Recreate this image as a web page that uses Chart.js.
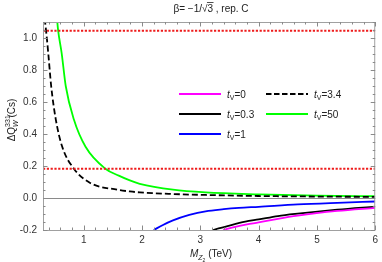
<!DOCTYPE html>
<html>
<head>
<meta charset="utf-8">
<script src="https://cdn.jsdelivr.net/npm/chart.js@4"></script>
<style>
  html, body { margin: 0; padding: 0; background: #fff; }
  #wrap { width: 382px; height: 262px; position: relative; }
</style>
</head>
<body>
<div id="wrap"><canvas id="chart"></canvas></div>
<script>
// valeurs : M_Z2 (TeV) -> Delta Q_W (Cs)
const mTv0 = [3.39, 3.6, 3.8, 4.0, 4.33, 4.67, 5.35, 6.0];
const qTv0 = [-0.2, -0.18, -0.165, -0.153, -0.13, -0.11, -0.081, -0.062];

const mTv03 = [3.22, 3.5, 3.77, 4.0, 4.33, 4.67, 5.35, 6.0];
const qTv03 = [-0.2, -0.172, -0.148, -0.134, -0.113, -0.098, -0.073, -0.054];

const mTv1 = [2.2, 2.35, 2.53, 2.81, 3.09, 3.4, 3.66, 4.0, 4.67, 5.35, 6.0];
const qTv1 = [-0.2, -0.17, -0.14, -0.106, -0.083, -0.07, -0.062, -0.055, -0.04, -0.03, -0.022];

const mTv34 = [0.33, 0.36, 0.39, 0.44, 0.52, 0.63, 0.83, 1.11, 1.57, 1.79, 1.96, 2.53, 3.09, 4.0, 5.0, 6.0];
const qTv34 = [1.12, 1.02, 0.906, 0.70, 0.49, 0.32, 0.183, 0.094, 0.052, 0.041, 0.035, 0.025, 0.019, 0.0125, 0.009, 0.007];

const mTv50 = [0.54, 0.56, 0.62, 0.69, 0.83, 1.03, 1.37, 1.6, 1.79, 1.96, 2.53, 3.09, 4.0, 5.0, 6.0];
const qTv50 = [1.12, 1.046, 0.906, 0.70, 0.49, 0.32, 0.183, 0.14, 0.11, 0.089, 0.052, 0.035, 0.023, 0.015, 0.011];

// bornes expérimentales (lignes rouges pointillées)
const boundHigh = 1.046;
const boundLow = 0.183;

const xRange = [0.3, 6];
const yRange = [-0.2, 1.1];
const xTicks = [1, 2, 3, 4, 5, 6];
const yTicks = [-0.2, 0, 0.2, 0.4, 0.6, 0.8, 1.0];

const FONT = "'Liberation Sans', Arial, sans-serif";

function zip(xs, ys) {
    return xs.map((x, i) => ({ x, y: ys[i] }));
}

function curve(label, xs, ys, color, dash) {
    return {
        label,
        data: zip(xs, ys),
        borderColor: color,
        borderWidth: 1.8,
        borderDash: dash || [],
        pointRadius: 0,
        fill: false,
        cubicInterpolationMode: "monotone",
    };
}

function hline(label, value) {
    return {
        label,
        data: [{ x: xRange[0], y: value }, { x: xRange[1], y: value }],
        borderColor: "#ee1c1c",
        borderWidth: 2,
        borderDash: [2.2, 1.6],
        pointRadius: 0,
        fill: false,
    };
}

/**
 * Dessine une suite de morceaux de texte (indices, exposants).
 */
function drawRuns(ctx, x, y, runs, align) {
    let total = 0;
    runs.forEach(r => { ctx.font = r.font; total += ctx.measureText(r.t).width; });
    let cx = align === "center" ? x - total / 2 : x;
    const pos = [];
    runs.forEach(r => {
        ctx.font = r.font;
        ctx.fillText(r.t, cx, y + (r.dy || 0));
        const w = ctx.measureText(r.t).width;
        pos.push({ x: cx, w });
        cx += w;
    });
    return pos;
}

const legendItems = [
    { sub: "0", color: "#ff00ff", dash: [], x: 179, y: 94 },
    { sub: "0.3", color: "#000000", dash: [], x: 179, y: 114 },
    { sub: "1", color: "#0000ff", dash: [], x: 179, y: 134 },
    { sub: "3.4", color: "#000000", dash: [5.5, 2.5], x: 266, y: 94 },
    { sub: "50", color: "#00ff00", dash: [], x: 266, y: 114 },
];

const decor = {
    id: "decor",
    beforeDatasetsDraw(chart) {
        const { ctx, chartArea: a, scales } = chart;
        const y0 = scales.y.getPixelForValue(0);
        ctx.save();
        ctx.strokeStyle = "#8a8a8a";
        ctx.lineWidth = 1;
        ctx.beginPath();
        ctx.moveTo(a.left, y0 + 0.5);
        ctx.lineTo(a.right, y0 + 0.5);
        ctx.stroke();
        ctx.restore();
    },
    afterDraw(chart) {
        const { ctx, chartArea: a, scales } = chart;
        const xs = scales.x, ys = scales.y;
        ctx.save();

        // cadre
        ctx.strokeStyle = "#a0a0a0";
        ctx.lineWidth = 1;
        ctx.strokeRect(a.left + 0.5, a.top + 0.5, a.right - a.left - 1, a.bottom - a.top);

        // graduations vers l'intérieur, sur les quatre côtés
        ctx.strokeStyle = "#8a8a8a";
        ctx.beginPath();
        for (let k = 2; k <= 30; k++) {
            const v = k * 0.2;
            const px = Math.round(xs.getPixelForValue(v)) + 0.5;
            const len = k % 5 === 0 ? 4.5 : 2.5;
            ctx.moveTo(px, a.bottom); ctx.lineTo(px, a.bottom - len);
            ctx.moveTo(px, a.top); ctx.lineTo(px, a.top + len);
        }
        for (let k = -4; k <= 22; k++) {
            const v = k * 0.05;
            const py = Math.round(ys.getPixelForValue(v)) + 0.5;
            const len = k % 4 === 0 ? 4.5 : 2.5;
            ctx.moveTo(a.left, py); ctx.lineTo(a.left + len, py);
            ctx.moveTo(a.right, py); ctx.lineTo(a.right - len, py);
        }
        ctx.stroke();

        ctx.fillStyle = "#222";
        ctx.textBaseline = "alphabetic";

        // titre
        const tf = "10px " + FONT;
        const pos = drawRuns(ctx, 211, 12, [
            { t: "β= −1/", font: tf },
            { t: "√", font: tf },
            { t: "3", font: tf },
            { t: " , rep. C", font: tf },
        ], "center");
        ctx.strokeStyle = "#222";
        ctx.lineWidth = 0.8;
        ctx.beginPath();
        ctx.moveTo(pos[1].x + pos[1].w - 0.5, 2.5);
        ctx.lineTo(pos[2].x + pos[2].w + 0.5, 2.5);
        ctx.stroke();

        // titre de l'axe x
        const it = "italic 10px " + FONT;
        drawRuns(ctx, 211, 257, [
            { t: "M", font: it },
            { t: "Z", font: "italic 7px " + FONT, dy: 2.5 },
            { t: "2", font: "5px " + FONT, dy: 4.5 },
            { t: " (TeV)", font: "10px " + FONT },
        ], "center");

        // titre de l'axe y
        ctx.save();
        ctx.translate(15, 120);
        ctx.rotate(-Math.PI / 2);
        const p = drawRuns(ctx, 0, 0, [
            { t: "ΔQ", font: "10px " + FONT },
            { t: "W", font: "italic 7px " + FONT, dy: 2.5 },
            { t: " (Cs)", font: "10px " + FONT },
        ], "center");
        ctx.font = "7px " + FONT;
        ctx.fillText("331", p[1].x, -5);
        ctx.restore();

        // légende
        legendItems.forEach(it2 => {
            ctx.strokeStyle = it2.color;
            ctx.lineWidth = 1.8;
            ctx.setLineDash(it2.dash);
            ctx.beginPath();
            ctx.moveTo(it2.x, it2.y);
            ctx.lineTo(it2.x + 42, it2.y);
            ctx.stroke();
            ctx.setLineDash([]);
            ctx.fillStyle = "#222";
            drawRuns(ctx, it2.x + 48, it2.y + 3.5, [
                { t: "t", font: "italic 10px " + FONT },
                { t: "V", font: "7px " + FONT, dy: 2.5 },
                { t: "=" + it2.sub, font: "10px " + FONT },
            ], "left");
        });

        ctx.restore();
    },
};

new Chart(document.getElementById("chart"), {
    type: "line",
    data: {
        datasets: [
            hline("borne haute", boundHigh),
            hline("borne basse", boundLow),
            curve("tV=3.4", mTv34, qTv34, "#000000", [6, 3]),
            curve("tV=50", mTv50, qTv50, "#00ff00"),
            curve("tV=1", mTv1, qTv1, "#0000ff"),
            curve("tV=0", mTv0, qTv0, "#ff00ff"),
            curve("tV=0.3", mTv03, qTv03, "#000000"),
        ],
    },
    options: {
        responsive: true,
        maintainAspectRatio: false,
        animation: false,
        layout: { padding: { top: 22, right: 3, left: 0, bottom: 0 } },
        plugins: {
            legend: { display: false },
            tooltip: { enabled: false },
        },
        scales: {
            x: {
                type: "linear",
                min: xRange[0],
                max: xRange[1],
                grid: { display: false, drawTicks: false },
                border: { display: false },
                afterBuildTicks: s => { s.ticks = xTicks.map(v => ({ value: v })); },
                afterFit: s => { s.height = 32; },
                ticks: {
                    autoSkip: false,
                    maxRotation: 0,
                    padding: 4,
                    color: "#333",
                    font: { family: FONT, size: 10 },
                    callback: v => String(v),
                },
            },
            y: {
                type: "linear",
                min: yRange[0],
                max: yRange[1],
                grid: { display: false, drawTicks: false },
                border: { display: false },
                afterBuildTicks: s => { s.ticks = yTicks.map(v => ({ value: v })); },
                afterFit: s => { s.width = 43; },
                ticks: {
                    autoSkip: false,
                    padding: 6,
                    color: "#333",
                    font: { family: FONT, size: 10 },
                    callback: v => Number(v).toFixed(1),
                },
            },
        },
    },
    plugins: [decor],
});
</script>
</body>
</html>
